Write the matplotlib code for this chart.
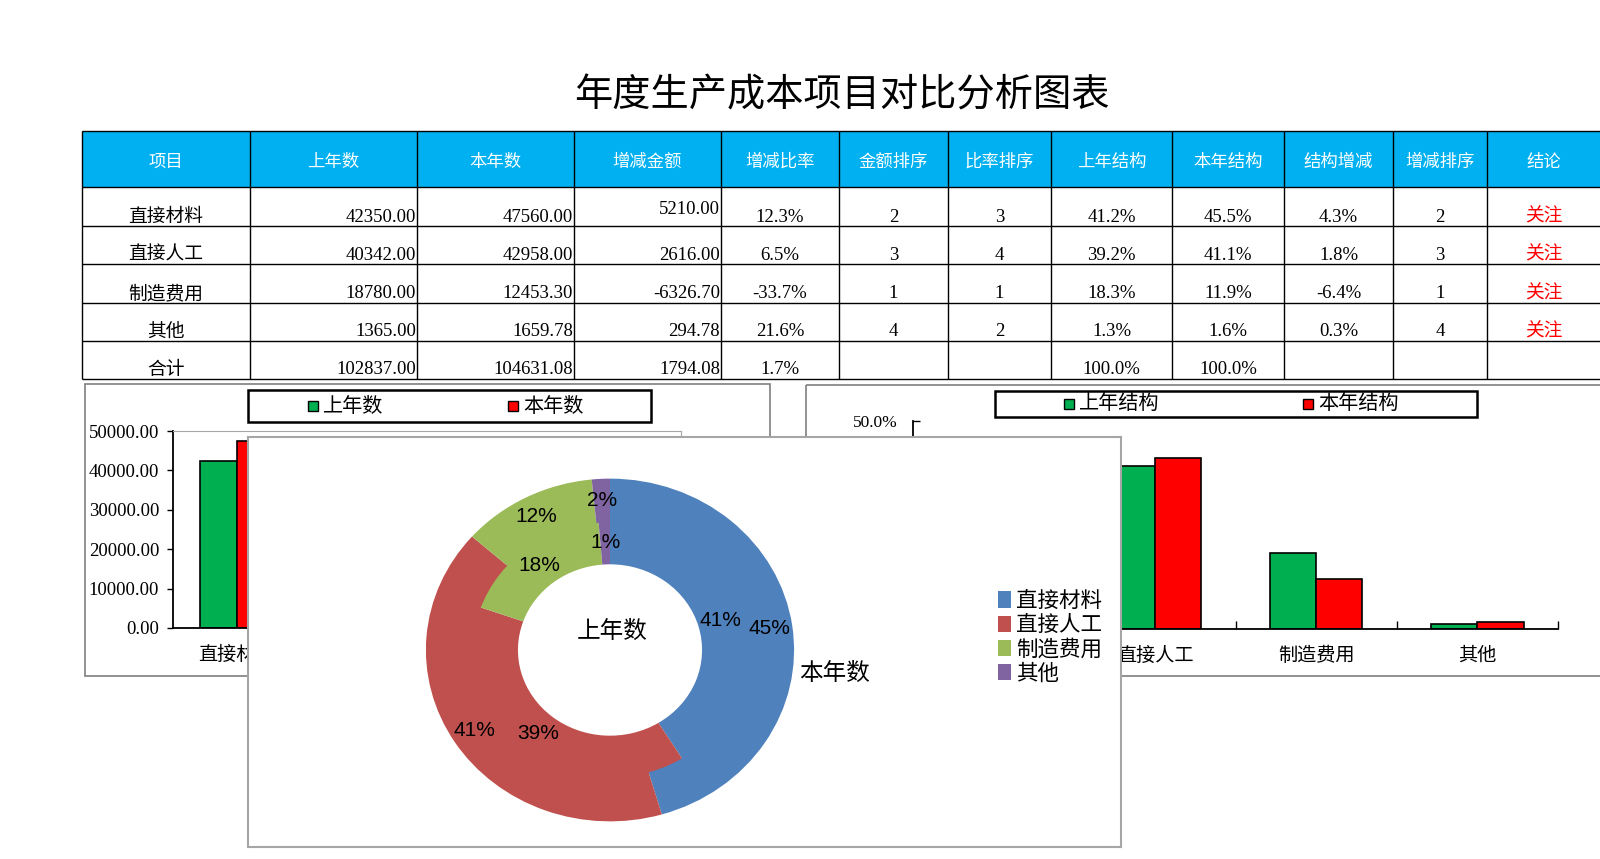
import numpy as np
import matplotlib
matplotlib.use('Agg')
import matplotlib.pyplot as plt
from matplotlib.patches import Rectangle
from matplotlib.ticker import FormatStrFormatter

plt.rcParams['font.family'] = ['Liberation Serif', 'Noto Sans CJK SC']

W, H = 1600, 859

# -------- data --------
items = ['直接材料', '直接人工', '制造费用', '其他']
last_year = [42350.00, 40342.00, 18780.00, 1365.00]
this_year = [47560.00, 42958.00, 12453.30, 1659.78]
diff_amount = [5210.00, 2616.00, -6326.70, 294.78]
diff_ratio = [12.3, 6.5, -33.7, 21.6]
amount_rank = [2, 3, 1, 4]
ratio_rank = [3, 4, 1, 2]
last_struct = [41.2, 39.2, 18.3, 1.3]
this_struct = [45.5, 41.1, 11.9, 1.6]
struct_diff = [4.3, 1.8, -6.4, 0.3]
diff_rank = [2, 3, 1, 4]
conclusion = ['关注', '关注', '关注', '关注']
total_row = ['合计', '102837.00', '104631.08', '1794.08', '1.7%', '', '', '100.0%', '100.0%', '', '', '']

headers = ['项目', '上年数', '本年数', '增减金额', '增减比率', '金额排序', '比率排序',
           '上年结构', '本年结构', '结构增减', '增减排序', '结论']

green = '#00B050'
red = '#FF0000'
pie_colors = ['#4F81BD', '#C0504D', '#9BBB59', '#8064A2']
cjk = ['Noto Sans CJK SC']


def px_axes(x0, y0, x1, y1, **kw):
    # axes placed by pixel box (top-left origin)
    return fig.add_axes([x0 / W, 1 - y1 / H, (x1 - x0) / W, (y1 - y0) / H], **kw)


fig = plt.figure(figsize=(W / 100, H / 100), dpi=100)

bg = fig.add_axes([0, 0, 1, 1], zorder=0)
bg.set_xlim(0, W)
bg.set_ylim(H, 0)
bg.axis('off')

# -------- title --------
bg.text(842, 96, '年度生产成本项目对比分析图表', ha='center', va='center',
        fontsize=27.5, family=cjk)

# -------- table --------
col_x = [82, 250, 417, 574, 721, 839, 948, 1051, 1172, 1284, 1393, 1487, 1600]
row_y = [131, 187, 226, 264, 303, 341, 379]

bg.add_patch(Rectangle((col_x[0], row_y[0]), W - col_x[0], row_y[1] - row_y[0],
                       color='#00B0F0', lw=0))
bg.hlines(row_y, col_x[0], W, color='black', lw=1)
bg.vlines(col_x[:-1], row_y[0], row_y[-1], color='black', lw=1)

for c, h in enumerate(headers):
    bg.text((col_x[c] + col_x[c + 1]) / 2, 162, h, color='white', ha='center',
            va='center', fontsize=12.5, family=cjk)

rows = []
for i in range(4):
    rows.append([items[i], f'{last_year[i]:.2f}', f'{this_year[i]:.2f}',
                 f'{diff_amount[i]:.2f}', f'{diff_ratio[i]:.1f}%',
                 str(amount_rank[i]), str(ratio_rank[i]),
                 f'{last_struct[i]:.1f}%', f'{this_struct[i]:.1f}%',
                 f'{struct_diff[i]:.1f}%', str(diff_rank[i]), conclusion[i]])
rows.append(total_row)

for r, cells in enumerate(rows):
    yb = row_y[r + 2] - 9
    for c, s in enumerate(cells):
        if not s:
            continue
        y = yb - 7 if (r == 0 and c == 3) else yb
        if c in (1, 2, 3):
            x, ha = col_x[c + 1] - 1, 'right'
        else:
            x, ha = (col_x[c] + col_x[c + 1]) / 2, 'center'
        bg.text(x, y, s, ha=ha, va='center', fontsize=13.5,
                color=red if c == 11 else 'black')

# -------- chart frames and legends --------
bg.add_patch(Rectangle((85, 384), 685, 292, fill=False, ec='#7f7f7f', lw=1.2))
bg.add_patch(Rectangle((806, 385), 820, 291, fill=False, ec='#7f7f7f', lw=1.2))


def legend_box(x0, y0, w, h, entries):
    bg.add_patch(Rectangle((x0, y0), w, h, fill=False, ec='black', lw=1.8))
    yc = y0 + h / 2
    for sx, label, col in entries:
        bg.add_patch(Rectangle((sx, yc - 5), 10, 10, fc=col, ec='black', lw=1))
        bg.text(sx + 15, yc + 1, label, ha='left', va='center', fontsize=14.5)


legend_box(248, 390, 403, 32, [(308, '上年数', green), (508, '本年数', red)])
legend_box(995, 391, 482, 26, [(1064, '上年结构', green), (1303, '本年结构', red)])

x = np.arange(len(items))
bw = 0.287

# -------- left bar chart --------
axL = px_axes(173, 431, 681, 628, zorder=1)
axL.patch.set_alpha(0)
axL.bar(x - bw / 2, last_year, bw, color=green, edgecolor='black', lw=1.2)
axL.bar(x + bw / 2, this_year, bw, color=red, edgecolor='black', lw=1.2)
axL.set_xlim(-0.5, 3.5)
axL.set_ylim(0, 50000)
axL.set_yticks(np.arange(0, 50001, 10000))
axL.yaxis.set_major_formatter(FormatStrFormatter('%.2f'))
axL.tick_params(axis='y', direction='out', length=4, width=1, labelsize=13.5, pad=6)
axL.set_xticks(x, items)
axL.tick_params(axis='x', length=0, pad=13, labelsize=13.8)
for s in ('left', 'bottom'):
    axL.spines[s].set_linewidth(1.3)
for s in ('top', 'right'):
    axL.spines[s].set_color('#a6a6a6')

# -------- right bar chart --------
axR = px_axes(913, 421, 1558, 629, zorder=1)
axR.patch.set_alpha(0)
axR.bar(x - bw / 2, last_struct, bw, color=green, edgecolor='black', lw=1.2)
axR.bar(x + bw / 2, this_struct, bw, color=red, edgecolor='black', lw=1.2)
axR.set_xlim(-0.5, 3.5)
axR.set_ylim(0, 50)
axR.set_yticks(np.arange(0, 51, 10))
axR.yaxis.set_major_formatter(FormatStrFormatter('%.1f%%'))
axR.tick_params(axis='y', direction='in', length=5, width=1, labelsize=12.5, pad=11)
axR.set_xticks(x, items)
axR.set_xticks(list(x[:-1] + 0.5) + [3.5], minor=True)
axR.tick_params(axis='x', which='major', length=0, pad=13, labelsize=13.8)
axR.tick_params(axis='x', which='minor', direction='in', length=6, width=1)
axR.spines['top'].set_visible(False)
axR.spines['right'].set_visible(False)
for s in ('left', 'bottom'):
    axR.spines[s].set_linewidth(1.3)

# -------- doughnut panel --------
panel = px_axes(248, 437, 1121, 847, zorder=5)
panel.set_facecolor('white')
panel.set_xticks([])
panel.set_yticks([])
for s in panel.spines.values():
    s.set_color('#a6a6a6')
    s.set_linewidth(1.5)

axP = px_axes(407.5, 461.5, 812.5, 838.5, zorder=6)
label_font = dict(fontsize=15, family=['Liberation Sans'])
axP.pie(last_year, radius=0.75, colors=pie_colors, startangle=90,
        counterclock=False, autopct='%.0f%%', pctdistance=0.625 / 0.75,
        wedgeprops=dict(width=0.25, linewidth=0), textprops=label_font)
outer, _, _ = axP.pie(this_year, radius=1.0, colors=pie_colors, startangle=90,
                      counterclock=False, autopct='%.0f%%', pctdistance=0.875 / 1.0,
                      wedgeprops=dict(width=0.256, linewidth=0), textprops=label_font)
axP.set_aspect('auto')
axP.set_xlim(-1.1, 1.1)
axP.set_ylim(-1.1, 1.1)
axP.text(0.01, 0.105, '上年数', ha='center', va='center', fontsize=17)
axP.text(1.22, -0.14, '本年数', ha='center', va='center', fontsize=17, clip_on=False)
axP.legend(outer, items, loc='center left', bbox_to_anchor=(998 / W, 1 - 638 / H),
           bbox_transform=fig.transFigure, frameon=False, fontsize=15.5,
           handlelength=0.6, handleheight=0.8, handletextpad=0.25,
           labelspacing=0.16, borderpad=0, borderaxespad=0)

fig.savefig('out.png', dpi=100)
